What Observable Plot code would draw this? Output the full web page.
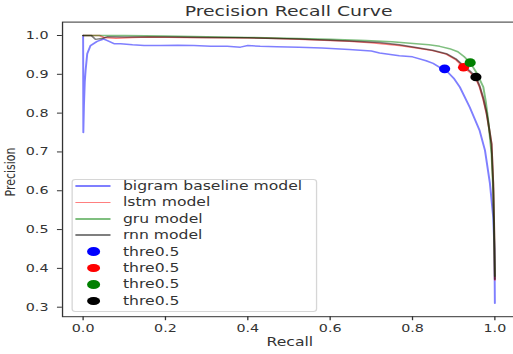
<!DOCTYPE html>
<html><head><meta charset="utf-8">
<script src="https://cdn.jsdelivr.net/npm/d3@7"></script>
<script src="https://cdn.jsdelivr.net/npm/@observablehq/plot@0.6"></script>
<style>
html,body{margin:0;padding:0;background:#fff;overflow:hidden;}
#wrap{position:relative;width:396px;height:354px;transform:scaleX(1.3);transform-origin:0 0;font-family:"DejaVu Sans",sans-serif;color:#333;}
#wrap svg{position:absolute;left:0;top:0;}
.ov{position:absolute;white-space:nowrap;line-height:1;}
</style></head><body><div id="wrap"></div>
<script>
// ---- data ----
const titleText = "Precision Recall Curve";
const xLabel = "Recall";
const yLabel = "Precision";
const xTicks = [0, 0.2, 0.4, 0.6, 0.8, 1.0];
const yTicks = [0.3, 0.4, 0.5, 0.6, 0.7, 0.8, 0.9, 1.0];

const seriesNames = ["bigram baseline model", "lstm model", "gru model", "rnn model"];
const lineColors = ["#0000ff", "#ff0000", "#008000", "#000000"];
const dotColors = ["#0000ff", "#ff0000", "#008000", "#000000"];
const thresholdLabel = "thre0.5";

const bigramRecall = [0, 0.0005, 0.002, 0.004, 0.006, 0.01, 0.018, 0.034, 0.05, 0.059, 0.075, 0.091, 0.12, 0.148, 0.188, 0.23, 0.269, 0.31, 0.35, 0.382, 0.4, 0.43, 0.47, 0.524, 0.58, 0.646, 0.7, 0.72, 0.768, 0.8, 0.833, 0.85, 0.866, 0.878, 0.9, 0.915, 0.939, 0.963, 0.976, 0.988, 0.996, 0.999, 1.0];
const bigramPrecision = [1.0, 0.75, 0.82, 0.88, 0.91, 0.953, 0.974, 0.985, 0.991, 0.987, 0.979, 0.979, 0.976, 0.974, 0.974, 0.975, 0.974, 0.972, 0.972, 0.97, 0.974, 0.972, 0.971, 0.97, 0.968, 0.964, 0.96, 0.955, 0.948, 0.945, 0.935, 0.928, 0.918, 0.914, 0.89, 0.867, 0.815, 0.755, 0.704, 0.619, 0.532, 0.45, 0.31];

const lstmRecall = [0, 0.04, 0.05, 0.08, 0.12, 0.16, 0.25, 0.35, 0.45, 0.524, 0.6, 0.646, 0.7, 0.768, 0.81, 0.849, 0.882, 0.905, 0.924, 0.94, 0.954, 0.963, 0.972, 0.98, 0.986, 0.992, 0.996, 0.998, 1.0];
const lstmPrecision = [1.0, 1.0, 0.995, 0.993, 0.995, 0.996, 0.995, 0.994, 0.993, 0.99, 0.987, 0.985, 0.981, 0.974, 0.968, 0.961, 0.952, 0.938, 0.918, 0.905, 0.889, 0.867, 0.835, 0.798, 0.76, 0.72, 0.618, 0.52, 0.37];

const gruRecall = [0, 0.1, 0.2, 0.3, 0.4, 0.524, 0.6, 0.687, 0.75, 0.809, 0.84, 0.866, 0.89, 0.91, 0.925, 0.94, 0.955, 0.972, 0.978, 0.984, 0.992, 0.996, 0.998, 1.0];
const gruPrecision = [1.0, 1.0, 0.999, 0.997, 0.995, 0.992, 0.99, 0.987, 0.984, 0.979, 0.976, 0.972, 0.966, 0.958, 0.946, 0.93, 0.905, 0.867, 0.83, 0.78, 0.695, 0.6, 0.5, 0.38];

const rnnRecall = [0, 0.02, 0.03, 0.045, 0.06, 0.1, 0.2, 0.3, 0.4, 0.524, 0.646, 0.72, 0.768, 0.849, 0.882, 0.905, 0.924, 0.94, 0.954, 0.963, 0.972, 0.98, 0.986, 0.992, 0.996, 0.998, 1.0];
const rnnPrecision = [1.0, 1.0, 0.99, 0.992, 0.997, 0.996, 0.996, 0.995, 0.994, 0.991, 0.986, 0.982, 0.976, 0.962, 0.953, 0.94, 0.922, 0.908, 0.893, 0.87, 0.838, 0.8, 0.762, 0.72, 0.62, 0.52, 0.372];

// threshold 0.5 points: bigram, lstm, gru, rnn
const thrRecall = [0.878, 0.924, 0.94, 0.954];
const thrPrecision = [0.914, 0.918, 0.93, 0.893];

// ---- build tables ----
const curves = [
  [bigramRecall, bigramPrecision],
  [lstmRecall, lstmPrecision],
  [gruRecall, gruPrecision],
  [rnnRecall, rnnPrecision]
];
const lineData = curves.flatMap(([r, p], k) => r.map((v, i) => ({recall: v, precision: p[i], model: seriesNames[k]})));
const dotData = thrRecall.map((v, i) => ({recall: v, precision: thrPrecision[i], model: seriesNames[i]}));

const W = 396, H = 354;
const chart = Plot.plot({
  width: W, height: H,
  marginLeft: 47.6, marginRight: 0, marginTop: 21.6, marginBottom: 37.8,
  style: {fontFamily: '"DejaVu Sans", sans-serif', fontSize: "11px", color: "#333", background: "transparent"},
  x: {domain: [-0.05, 1.05]},
  y: {domain: [0.2755, 1.0345]},
  color: {domain: seriesNames, range: lineColors},
  marks: [
    Plot.frame({stroke: "#333"}),
    Plot.axisX({ticks: xTicks, tickFormat: d3.format(".1f"), tickSize: 4, tickPadding: 3, label: null, stroke: "#333"}),
    Plot.axisY({ticks: yTicks, tickFormat: d3.format(".1f"), tickSize: 3.8, tickPadding: 7, label: null, stroke: "#333"}),
    Plot.line(lineData, {x: "recall", y: "precision", z: "model", stroke: "model", strokeOpacity: 0.5, strokeWidth: 1.5}),
    Plot.dot(dotData, {x: "recall", y: "precision", fill: "model", r: 4.3})
  ]
});
const wrap = document.getElementById("wrap");
wrap.appendChild(chart);

function ov(text, css) {
  const d = document.createElement("div");
  d.className = "ov";
  d.textContent = text;
  Object.assign(d.style, css);
  wrap.appendChild(d);
  return d;
}
ov(titleText, {left: "222px", top: "10.5px", fontSize: "14.5px", transform: "translate(-50%,-50%)"});
ov(xLabel, {left: "223px", top: "342px", fontSize: "12px", transform: "translate(-50%,-50%)"});
ov(yLabel, {left: "7.6px", top: "172px", fontSize: "11px", transform: "translate(-50%,-50%) rotate(-90deg)"});

// legend
const lg = document.createElement("div");
Object.assign(lg.style, {position: "absolute", left: "54.6px", top: "179px", width: "189px", height: "133px",
  border: "1px solid #d6d6d6", borderRadius: "3px", background: "rgba(255,255,255,0.8)", boxSizing: "border-box"});
wrap.appendChild(lg);
const rowY0 = 186, rowStep = 16.4;
const entries = seriesNames.map((n, i) => ({type: "line", label: n, color: lineColors[i]}))
  .concat(dotColors.map(c => ({type: "dot", label: thresholdLabel, color: c})));
entries.forEach((e, i) => {
  const cy = rowY0 + rowStep * i;
  const s = document.createElement("div");
  if (e.type === "line") {
    Object.assign(s.style, {position: "absolute", left: "57.7px", top: (cy - 0.75) + "px", width: "27px", height: "1.5px",
      background: e.color, opacity: 0.5});
  } else {
    Object.assign(s.style, {position: "absolute", left: (71.5 - 5) + "px", top: (cy - 4.3) + "px", width: "10px", height: "8.6px",
      background: e.color, borderRadius: "50%"});
  }
  wrap.appendChild(s);
  ov(e.label, {left: "94.6px", top: cy + "px", fontSize: "12px", transform: "translateY(-50%)"});
});
</script>
</body></html>
